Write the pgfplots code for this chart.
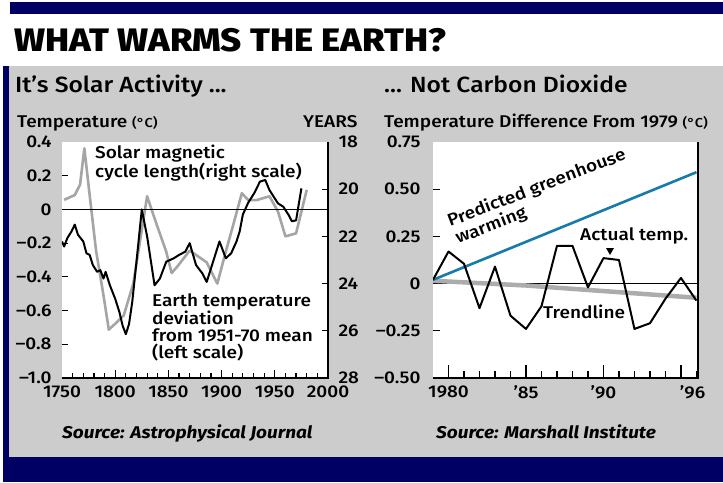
\documentclass[border=0pt]{standalone}
\usepackage{fontspec}
\setmainfont{Fira Sans}[UprightFont={* Medium}, BoldFont={* Bold}, ItalicFont={* Medium Italic}, BoldItalicFont={* Bold Italic}, FakeStretch=1.12]
\newfontfamily\titlefont{Fira Sans ExtraBold}[FakeStretch=1.12]
\usepackage{pgfplots}
\pgfplotsset{compat=1.18}

\definecolor{navy}{RGB}{0,0,100}
\definecolor{panel}{RGB}{204,204,204}
\definecolor{cyclegray}{RGB}{165,165,165}
\definecolor{trendgray}{RGB}{172,172,172}
\definecolor{ghblue}{RGB}{22,122,170}

\newcommand{\tickfont}{\fontsize{17}{18}\selectfont}
\newcommand{\notefont}{\fontsize{17}{17}\selectfont}

\pgfplotsset{
  panel/.style={
    scale only axis, anchor=south west, height=236pt,
    axis line style={draw=none},
    tick align=inside,
    major tick length=0pt, minor tick length=0pt,
    ticklabel style={font=\tickfont},
  },
}

\begin{document}
\begin{tikzpicture}
\begin{scope}[x=1pt,y=1pt]
\useasboundingbox (0,0) rectangle (723,-482);
\fill[white] (0,0) rectangle (723,-482);
\fill[navy] (10,-2) rectangle (723,-14);
\fill[panel] (5,-66) rectangle (723,-457);
\fill[navy] (3,-66) rectangle (9,-457);
\fill[navy] (3,-457) rectangle (723,-482);

\node[anchor=base west, inner sep=0, font=\fontsize{32.5}{34}\selectfont\titlefont] at (14,-51) {WHAT WARMS THE EARTH?};
\node[anchor=base west, inner sep=0, font=\fontsize{22}{22}\selectfont] at (15,-92) {It’s Solar Activity ...};
\node[anchor=base west, inner sep=0, font=\fontsize{22}{22}\selectfont] at (384,-92) {... Not Carbon Dioxide};
\node[anchor=base west, inner sep=0, font=\notefont] at (17,-127) {Temperature {\fontsize{13}{13}\selectfont(°C)}};
\node[anchor=base west, inner sep=0, font=\notefont] at (303,-127) {YEARS};
\node[anchor=base west, inner sep=0, font=\notefont] at (384,-127) {Temperature Difference From 1979 {\fontsize{13}{13}\selectfont(°C)}};

% plot areas
\fill[white] (62,-378) rectangle (328,-142);
\fill[white] (433,-378) rectangle (698,-142);
\end{scope}

% ---- left panel, cycle length (right scale)
\begin{axis}[panel,
  at={(62pt,-378pt)}, width=266pt,
  xmin=1750, xmax=2000, ymin=18, ymax=28, y dir=reverse,
  xtick pos=bottom, ytick pos=right, yticklabel pos=right,
  xtick={1750,1800,1850,1900,1950,2000},
  xticklabels={1750,1800,1850,1900,1950,2000},
  ytick={18,20,22,24,26,28}, yticklabels={18,20,22,24,26,28},
  xticklabel style={yshift=-4pt},
  yticklabel style={xshift=7pt},
]
\addplot[cyclegray, line width=2.6pt, line join=round] coordinates {
  (1752,20.45) (1762,20.25) (1767,19.8) (1771,18.27) (1776,20.25)
  (1782,22.6) (1789,24.5) (1794,25.95) (1800,25.7) (1808,25.35)
  (1817,24.0) (1830,20.3) (1839,21.5) (1848,22.65) (1853,23.55)
  (1858,23.3) (1870,22.6) (1886,23.1) (1896,24.0) (1903,22.8)
  (1911,21.5) (1919,20.17) (1925,20.46) (1933,20.46) (1945,20.3)
  (1953,20.95) (1960,22.0) (1970,21.87) (1980,20.03)
};
\end{axis}

% ---- left panel, earth temperature (left scale)
\begin{axis}[panel,
  at={(62pt,-378pt)}, width=266pt,
  xmin=1750, xmax=2000, ymin=-1, ymax=0.4,
  xtick=\empty, ytick pos=left,
  ytick={-1,-0.8,-0.6,-0.4,-0.2,0,0.2,0.4},
  yticklabels={–1.0,–0.8,–0.6,–0.4,–0.2,0,0.2,0.4},
  yticklabel style={xshift=-7pt},
]
\addplot[black, line width=0.8pt] coordinates {(1750,0) (2000,0)};
\addplot[black, line width=2pt, line join=round] coordinates {
  (1750,-0.19) (1752,-0.22) (1755,-0.17) (1759,-0.13) (1762,-0.09)
  (1765,-0.15) (1770,-0.19) (1773,-0.26) (1776,-0.27) (1779,-0.33)
  (1783,-0.37) (1786,-0.36) (1789,-0.41) (1791,-0.37) (1795,-0.45)
  (1800,-0.53) (1804,-0.61) (1807,-0.69) (1810,-0.74) (1813,-0.68)
  (1816,-0.55) (1820,-0.31) (1825,0.0) (1830,-0.16) (1837,-0.45)
  (1842,-0.41) (1848,-0.31) (1855,-0.29) (1860,-0.27) (1866,-0.25)
  (1870,-0.20) (1876,-0.33) (1882,-0.38) (1886,-0.43) (1892,-0.31)
  (1898,-0.19) (1904,-0.29) (1909,-0.26) (1914,-0.19) (1917,-0.13)
  (1920,-0.03) (1925,0.04) (1931,0.10) (1936,0.165) (1941,0.175)
  (1945,0.115) (1950,0.065) (1953,0.036) (1958,0.016) (1963,-0.033)
  (1966,-0.07) (1970,-0.065) (1975,0.125)
};
\end{axis}

% ---- right panel
\begin{axis}[panel,
  at={(433pt,-378pt)}, width=265pt,
  xmin=1979, xmax=1996.1, ymin=-0.5, ymax=0.75,
  xtick pos=bottom, ytick pos=left,
  xtick={1980,1985,1990,1995.75}, xticklabels={1980,’85,’90,’96},
  xticklabel style={yshift=-4pt},
  ytick={-0.5,-0.25,0,0.25,0.5,0.75},
  yticklabels={–0.50,–0.25,0,0.25,0.50,0.75},
  yticklabel style={xshift=-9pt},
]
\addplot[black, line width=0.8pt] coordinates {(1979,0) (1996.1,0)};
\addplot[trendgray, line width=4.5pt] coordinates {(1979,0.015) (1985,-0.01) (1996,-0.075)};
\addplot[ghblue, line width=2.6pt] coordinates {(1979,0.02) (1996,0.59)};
\addplot[black, line width=2pt, line join=round] coordinates {
  (1979,0.02) (1980,0.17) (1981,0.105) (1982,-0.13) (1983,0.09)
  (1984,-0.17) (1985,-0.24) (1986,-0.12) (1987,0.20) (1988,0.20)
  (1989,-0.02) (1990,0.135) (1991,0.125) (1992,-0.24) (1993,-0.21)
  (1994,-0.08) (1995,0.03) (1996,-0.09)
};
\end{axis}

\begin{scope}[x=1pt,y=1pt]
% axis frames (bottom and right only) and tick marks
\draw[line width=1.5pt] (62,-378) -- (328,-378) -- (328,-142);
\draw[line width=1.5pt] (433,-378) -- (698,-378) -- (698,-142);
\foreach \t in {1760,1770,1780,1790,1810,1820,1830,1840,1860,1870,1880,1890,1910,1920,1930,1940,1960,1970,1980,1990}
  {\draw[line width=1.2pt] ({62+(\t-1750)*1.064},-378) -- ++(0,5);}
\foreach \t in {1800,1850,1900,1950}
  {\draw[line width=1.2pt] ({62+(\t-1750)*1.064},-378) -- ++(0,8);}
\foreach \v in {-0.8,-0.6,-0.4,-0.2,0.2}
  {\draw[line width=1.2pt] (62,{-378+(\v+1)*168.57}) -- ++(6,0);}
\foreach \v in {20,22,24,26}
  {\draw[line width=1.2pt] (328,{-142-(\v-18)*23.6}) -- ++(-6,0);}
\foreach \t in {1981,1982,1983,1984,1986,1987,1988,1989,1991,1992,1993,1994,1996}
  {\draw[line width=1.2pt] ({433+(\t-1979)*15.497},-378) -- ++(0,7);}
\foreach \t in {1980,1985,1990,1995}
  {\draw[line width=1.2pt] ({433+(\t-1979)*15.497},-378) -- ++(0,13);}
\foreach \v in {-0.25,0.25,0.5}
  {\draw[line width=1.2pt] (433,{-378+(\v+0.5)*188.8}) -- ++(7,0);}

% annotations
\node[anchor=north west, align=left, inner sep=0, font=\notefont] at (95,-145) {Solar magnetic\\cycle length(right scale)};
\node[anchor=north west, align=left, inner sep=0, font=\notefont] at (152,-293) {Earth temperature\\deviation\\from 1951-70 mean\\(left scale)};
\node[anchor=base west, inner sep=0, rotate=21, font=\notefont] at (450,-227) {Predicted greenhouse};
\node[anchor=base west, inner sep=0, rotate=21, font=\notefont] at (458,-244) {warming};
\node[anchor=base west, inner sep=0, font=\notefont] at (580,-240) {Actual temp.};
\fill (606,-248) -- (614,-248) -- (610,-255) -- cycle;
\node[anchor=base west, inner sep=0, font=\notefont] at (543,-318) {Trendline};

\node[anchor=base west, inner sep=0, font=\fontsize{17}{18}\selectfont\bfseries\itshape] at (62,-438) {Source: Astrophysical Journal};
\node[anchor=base west, inner sep=0, font=\fontsize{17}{18}\selectfont\bfseries\itshape] at (436,-438) {Source: Marshall Institute};
\end{scope}
\end{tikzpicture}
\end{document}
